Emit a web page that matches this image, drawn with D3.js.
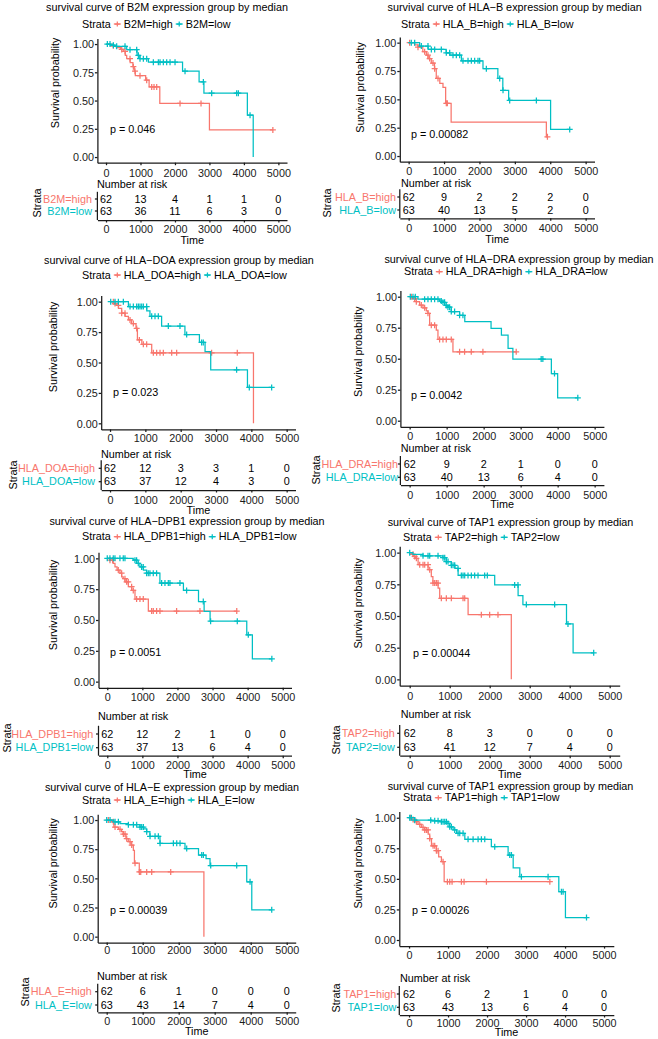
<!DOCTYPE html>
<html><head><meta charset="utf-8">
<script src="https://cdn.jsdelivr.net/npm/d3@7"></script>
<style>body{margin:0;background:#fff}</style>
</head><body>
<script>
// ---------- DATA ----------
const genes = ["B2M","HLA_B","HLA_DOA","HLA_DRA","HLA_DPB1","TAP2","HLA_E","TAP1"];
const titles = [
 "survival curve of B2M expression group by median",
 "survival curve of HLA\u2212B expression group by median",
 "survival curve of HLA\u2212DOA expression group by median",
 "survival curve of HLA\u2212DRA expression group by median",
 "survival curve of HLA\u2212DPB1 expression group by median",
 "survival curve of TAP1 expression group by median",
 "survival curve of HLA\u2212E expression group by median",
 "survival curve of TAP1 expression group by median"];
const pValues = ["0.046","0.00082","0.023","0.0042","0.0051","0.00044","0.00039","0.00026"];
const timeTicks = [0,1000,2000,3000,4000,5000];
const survTicks = [0,0.25,0.5,0.75,1];
const survTickLabels = ["0.00","0.25","0.50","0.75","1.00"];
const riskHigh = [[62,13,4,1,1,0],[62,9,2,2,2,0],[62,12,3,3,1,0],[62,9,2,1,0,0],[62,12,2,1,0,0],[62,8,3,0,0,0],[62,6,1,0,0,0],[62,6,2,1,0,0]];
const riskLow  = [[63,36,11,6,3,0],[63,40,13,5,2,0],[63,37,12,4,3,0],[63,40,13,6,4,0],[63,37,13,6,4,0],[63,41,12,7,4,0],[63,43,14,7,4,0],[63,43,13,6,4,0]];
const highEnd = [4840,3920,4060,2880,3690,2540,2700,3610];
const lowEnd  = [4270,4550,4575,4545,4690,4600,4584,4550];

const b2mHighSteps = [[150,0.984],[300,0.968],[420,0.952],[500,0.935],[560,0.90],[600,0.87],[700,0.835],[780,0.80],[820,0.76],[850,0.72],[1150,0.68],[1250,0.62],[1560,0.475],[3000,0.24]];
const b2mHighCensor = [213,455,551,696,793,841,986,1180,1325,1392,1470,2147,2756,4840];
const b2mLowSteps = [[120,0.99],[250,0.98],[600,0.95],[900,0.90],[980,0.87],[1230,0.84],[2220,0.76],[2700,0.665],[2840,0.565],[4100,0.37],[4270,0.0]];
const b2mLowCensor = [39,116,213,309,551,696,890,938,986,1083,1180,1373,1518,1567,1663,1760,1857,2002,2292,2824,3065,3790,3839,4178];

const hlabHighSteps = [[170,0.98],[260,0.96],[400,0.92],[500,0.89],[550,0.86],[640,0.82],[730,0.77],[780,0.685],[880,0.64],[970,0.605],[1045,0.465],[1200,0.30],[3890,0.17]];
const hlabHighCensor = [28,264,452,546,593,688,735,829,1064,1093,3920];
const hlabLowSteps = [[310,0.97],[550,0.94],[1060,0.91],[1160,0.89],[1490,0.84],[2100,0.77],[2520,0.685],[2660,0.58],[2825,0.49],[4010,0.235]];
const hlabLowCensor = [75,170,358,546,641,735,923,1064,1159,1253,1347,1441,1535,1677,1771,1865,1959,2006,2195,2572,2666,2854,3608,4550];

const doaHighSteps = [[95,0.985],[190,0.97],[240,0.945],[330,0.905],[425,0.88],[520,0.85],[610,0.82],[735,0.78],[775,0.685],[900,0.65],[1180,0.58],[4060,0.0]];
const doaHighCensor = [94,141,236,330,424,566,660,754,830,943,1037,1226,1320,1415,1509,1745,1886,2876,3602];
const doaLowSteps = [[520,0.96],[1040,0.925],[1130,0.88],[1460,0.80],[2120,0.73],[2530,0.665],[2690,0.59],[2850,0.44],[3890,0.295]];
const doaLowCensor = [19,141,236,377,566,660,754,802,849,896,943,1037,1179,1273,1367,1650,1980,2169,2593,2640,3583,3942,4575];

const draHighSteps = [[90,0.985],[180,0.96],[270,0.933],[360,0.91],[450,0.885],[495,0.866],[540,0.77],[720,0.73],[765,0.655],[1170,0.556]];
const draHighCensor = [45,135,180,315,405,495,585,675,810,900,990,1125,1350,1485,1665,1980,2880];
const draLowSteps = [[225,0.98],[810,0.965],[900,0.955],[950,0.93],[1030,0.915],[1125,0.88],[1350,0.85],[1490,0.80],[2200,0.745],[2480,0.69],[2660,0.583],[2790,0.497],[3830,0.38],[4000,0.185]];
const draLowCensor = [18,90,153,405,495,585,675,765,855,900,945,990,1035,1080,1125,1215,1350,1440,3555,3600,3915,4545];

const dpbHighSteps = [[75,0.985],[170,0.96],[220,0.93],[280,0.905],[360,0.88],[410,0.85],[455,0.835],[505,0.81],[600,0.77],[695,0.74],[790,0.67],[1170,0.573]];
const dpbHighCensor = [76,152,314,409,504,551,599,694,741,836,931,1026,1264,1311,1406,1501,1976,2641,3690];
const dpbLowSteps = [[740,0.985],[840,0.96],[930,0.93],[1030,0.905],[1120,0.88],[1500,0.80],[2170,0.74],[2600,0.65],[2760,0.57],[2930,0.49],[3975,0.38],[4135,0.185]];
const dpbLowCensor = [0,76,171,219,361,456,504,789,836,884,979,1026,1121,1169,1216,1311,1406,1549,1644,1739,1786,2071,2261,2736,2945,3705,4019,4690];

const tap2HighSteps = [[40,0.987],[90,0.97],[140,0.955],[210,0.905],[460,0.865],[540,0.81],[580,0.76],[710,0.72],[750,0.64],[1460,0.51],[2540,0.0]];
const tap2HighCensor = [83,125,167,250,333,375,458,500,583,625,666,708,791,916,1041,1333,1375,1791,1999,2207];
const tap2LowSteps = [[80,0.987],[330,0.975],[830,0.96],[915,0.93],[1040,0.90],[1130,0.875],[1210,0.82],[2125,0.745],[2710,0.66],[2830,0.59],[3920,0.437],[4085,0.21]];
const tap2LowCensor = [0,333,458,500,708,833,875,916,958,1041,1083,1125,1208,1291,1333,1375,1458,1541,1624,1708,1874,1941,2624,2707,2916,3624,3957,4600];

const heHighSteps = [[140,0.985],[200,0.94],[325,0.92],[415,0.90],[460,0.88],[535,0.84],[600,0.815],[675,0.785],[740,0.74],[770,0.63],[905,0.555],[2700,0.0]];
const heHighCensor = [46,185,232,370,463,509,556,648,695,787,907,945,1111,1250,1778];
const heLowSteps = [[200,0.985],[370,0.97],[600,0.96],[925,0.94],[1020,0.925],[1110,0.90],[1200,0.86],[1480,0.80],[2175,0.755],[2550,0.70],[2760,0.67],[2870,0.61],[3890,0.47],[4030,0.23]];
const heLowCensor = [0,93,232,324,602,741,833,926,972,1019,1111,1204,1343,1435,1482,1852,1945,2037,2222,2639,2685,2889,3611,3982,4584];

const tap1HighSteps = [[60,0.986],[145,0.967],[230,0.945],[315,0.92],[400,0.90],[490,0.865],[530,0.83],[575,0.77],[700,0.73],[760,0.68],[830,0.64],[900,0.477]];
const tap1HighCensor = [34,103,188,274,359,402,445,487,530,616,658,701,744,872,983,1043,1103,1342,1411,1984,3610];
const tap1LowSteps = [[145,0.98],[575,0.975],[785,0.967],[960,0.953],[1040,0.926],[1130,0.90],[1220,0.872],[1430,0.823],[2110,0.763],[2540,0.695],[2670,0.59],[2840,0.518],[3840,0.395],[4010,0.183]];
const tap1LowCensor = [17,60,145,556,658,744,829,872,915,958,1000,1043,1086,1171,1257,1300,1385,1513,1642,1770,1855,1941,2197,2582,2625,2881,3565,3907,3950,4550];

const highSteps = [b2mHighSteps,hlabHighSteps,doaHighSteps,draHighSteps,dpbHighSteps,tap2HighSteps,heHighSteps,tap1HighSteps];
const highCensor = [b2mHighCensor,hlabHighCensor,doaHighCensor,draHighCensor,dpbHighCensor,tap2HighCensor,heHighCensor,tap1HighCensor];
const lowSteps = [b2mLowSteps,hlabLowSteps,doaLowSteps,draLowSteps,dpbLowSteps,tap2LowSteps,heLowSteps,tap1LowSteps];
const lowCensor = [b2mLowCensor,hlabLowCensor,doaLowCensor,draLowCensor,dpbLowCensor,tap2LowCensor,heLowCensor,tap1LowCensor];

// ---------- LAYOUT (pixels) ----------
const layouts = [
 {L:97.4,R:287,T:38.4,B:162.7,titleX:167,titleY:7,legX:82,legY:24,tickY:173,pX:110,pY:129,ytX:55,ytY:83,narX:97,narY:184,row1:199,row2:211,tAxisY:220,tTickY:229,timeY:240,strX:92,strataX:37,strataY:203},
 {L:399.8,R:594.5,T:37,B:161.7,titleX:514.7,titleY:7,legX:401,legY:24,tickY:171,pX:411,pY:134,ytX:360,ytY:87.5,narX:401,narY:183,row1:197,row2:210,tAxisY:218.3,tTickY:228,timeY:239,strX:396,strataX:327,strataY:203},
 {L:101.2,R:295.5,T:295.6,B:429.4,titleX:179,titleY:260,legX:82,legY:275,tickY:438,pX:113,pY:392.7,ytX:53,ytY:347,narX:101,narY:454,row1:468.3,row2:481.7,tAxisY:490,tTickY:500,timeY:510,strX:95,strataX:13,strataY:475},
 {L:400.4,R:603.9,T:290.5,B:426.9,titleX:519,titleY:259,legX:404,legY:271.7,tickY:436.7,pX:411,pY:395,ytX:358,ytY:351.7,narX:400.7,narY:448.3,row1:464,row2:477.3,tAxisY:485,tTickY:495.7,timeY:504.3,strX:398,strataX:316,strataY:470},
 {L:98.5,R:291.5,T:552.2,B:687.8,titleX:187,titleY:521.7,legX:82,legY:536.7,tickY:697.7,pX:110,pY:652.7,ytX:53,ytY:605,narX:98,narY:716,row1:734,row2:747.7,tAxisY:755.7,tTickY:765,timeY:774,strX:93.3,strataX:7,strataY:738},
 {L:399.7,R:619.7,T:546.3,B:685.7,titleX:510.5,titleY:522.3,legX:403,legY:537.3,tickY:696.7,pX:413,pY:653.3,ytX:358,ytY:603.3,narX:400.7,narY:714,row1:733.3,row2:747.3,tAxisY:755.7,tTickY:765,timeY:774,strX:394.7,strataX:336,strataY:740},
 {L:97.7,R:295.7,T:814.2,B:942.5,titleX:172,titleY:787.3,legX:82,legY:800,tickY:950,pX:110,pY:910,ytX:53,ytY:863.3,narX:97,narY:976.7,row1:991.7,row2:1005,tAxisY:1012.3,tTickY:1021.7,timeY:1031.7,strX:91.7,strataX:25,strataY:992},
 {L:399.3,R:613.8,T:811.6,B:946.1,titleX:510.5,titleY:786,legX:403,legY:797.7,tickY:955,pX:412,pY:910,ytX:358,ytY:863.3,narX:400,narY:978.3,row1:994,row2:1007.3,tAxisY:1015,tTickY:1023.3,timeY:1032.3,strX:396.3,strataX:336,strataY:998}
];

// ---------- DRAW ----------
const RED = "#F8766D", CYAN = "#00BFC4";
const FS = 10.8;
const SW = 1.25;
const FONT = "'Liberation Sans', Arial, Helvetica, sans-serif";
const svg = d3.select("body").append("svg").attr("width",658).attr("height",1039)
  .style("font-family",FONT).style("font-size",FS+"px");

function survAt(steps,t){ let s=1; for(const [tt,ss] of steps){ if(tt<=t) s=ss; } return s; }
const cross = "M-3,0H3M0,-3V3";
const crossSmall = "M-2.5,0H2.5M0,-2.5V2.5";

layouts.forEach((Lo,i)=>{
  const g = svg.append("g");
  const x = d3.scaleLinear().domain([-250,5250]).range([Lo.L,Lo.R]);
  const y = d3.scaleLinear().domain([-0.05,1.05]).range([Lo.B,Lo.T]);

  // title
  g.append("text").attr("x",Lo.titleX).attr("y",Lo.titleY).attr("dy","0.35em")
    .attr("text-anchor","middle").text(titles[i]);

  // legend
  let lx = Lo.legX;
  const leg = g.append("g");
  const t0 = leg.append("text").attr("x",lx).attr("y",Lo.legY).attr("dy","0.35em").text("Strata");
  lx += t0.node().getComputedTextLength() + 3;
  [[RED,genes[i]+"=high"],[CYAN,genes[i]+"=low"]].forEach(([c,lab],k)=>{
    leg.append("path").attr("d",`M${lx},${Lo.legY}h7`).attr("stroke",c).attr("stroke-width",SW);
    leg.append("path").attr("d",crossSmall).attr("transform",`translate(${lx+3.5},${Lo.legY})`).attr("stroke",c).attr("stroke-width",SW).attr("fill","none");
    lx += 10;
    const tt = leg.append("text").attr("x",lx).attr("y",Lo.legY).attr("dy","0.35em").text(lab);
    lx += tt.node().getComputedTextLength() + 3;
  });

  // y axis
  const ya = g.append("g").attr("transform",`translate(${Lo.L},0)`)
    .call(d3.axisLeft(y).tickValues(survTicks).tickFormat((d,j)=>survTickLabels[j]).tickSize(2.5).tickSizeOuter(0).tickPadding(1));
  // x axis
  const xa = g.append("g").attr("transform",`translate(0,${Lo.B})`)
    .call(d3.axisBottom(x).tickValues(timeTicks).tickFormat(d3.format("d")).tickSize(2.5).tickSizeOuter(0));
  xa.selectAll("text").attr("y",Lo.tickY-Lo.B).attr("dy","0.35em");
  [ya,xa].forEach(a=>{
    a.attr("font-family",FONT).attr("font-size",FS+"px");
    a.selectAll("text").attr("fill","#1a1a1a");
    a.selectAll("path,line").attr("stroke","#1a1a1a").attr("stroke-width",SW);
  });
  ya.selectAll("text").attr("dy","0.35em");

  // y title
  g.append("text").attr("transform",`translate(${Lo.ytX},${Lo.ytY}) rotate(-90)`)
    .attr("text-anchor","middle").attr("dy","0.35em").text("Survival probability");

  // curves
  const line = d3.line().x(d=>x(d[0])).y(d=>y(d[1])).curve(d3.curveStepAfter);
  [[highSteps[i],highCensor[i],highEnd[i],RED],[lowSteps[i],lowCensor[i],lowEnd[i],CYAN]].forEach(([st,ce,en,c])=>{
    const pts = [[0,1]].concat(st);
    pts.push([en, st[st.length-1][1]]);
    g.append("path").attr("d",line(pts)).attr("fill","none").attr("stroke",c).attr("stroke-width",SW);
    g.selectAll(null).data(ce).enter().append("path").attr("d",cross)
      .attr("transform",t=>`translate(${x(t)},${y(survAt(st,t))})`)
      .attr("stroke",c).attr("stroke-width",SW).attr("fill","none");
  });

  // p value
  g.append("text").attr("x",Lo.pX).attr("y",Lo.pY).attr("dy","0.35em").text("p = "+pValues[i]);

  // risk table
  g.append("text").attr("x",Lo.narX).attr("y",Lo.narY).attr("dy","0.35em").text("Number at risk");
  const top = Lo.row1 - 0.6*(Lo.row2-Lo.row1);
  g.append("line").attr("x1",Lo.L).attr("x2",Lo.L).attr("y1",top).attr("y2",Lo.tAxisY).attr("stroke","#1a1a1a").attr("stroke-width",SW);
  const ta = g.append("g").attr("transform",`translate(0,${Lo.tAxisY})`)
    .call(d3.axisBottom(x).tickValues(timeTicks).tickFormat(d3.format("d")).tickSize(2.5).tickSizeOuter(0));
  ta.attr("font-family",FONT).attr("font-size",FS+"px");
  ta.selectAll("text").attr("y",Lo.tTickY-Lo.tAxisY).attr("dy","0.35em").attr("fill","#1a1a1a");
  ta.selectAll("path,line").attr("stroke","#1a1a1a").attr("stroke-width",SW);

  [[riskHigh[i],Lo.row1,RED,genes[i]+"=high"],[riskLow[i],Lo.row2,CYAN,genes[i]+"=low"]].forEach(([vals,ry,c,lab])=>{
    g.selectAll(null).data(vals).enter().append("text")
      .attr("x",(d,j)=>x(timeTicks[j])).attr("y",ry).attr("dy","0.35em").attr("text-anchor","middle").text(d=>d);
    g.append("line").attr("x1",Lo.L-2.5).attr("x2",Lo.L).attr("y1",ry).attr("y2",ry).attr("stroke","#1a1a1a").attr("stroke-width",SW);
    g.append("text").attr("x",Lo.strX).attr("y",ry).attr("dy","0.35em").attr("text-anchor","end").attr("fill",c).text(lab);
  });
  g.append("text").attr("transform",`translate(${Lo.strataX},${Lo.strataY}) rotate(-90)`)
    .attr("text-anchor","middle").attr("dy","0.35em").text("Strata");
  g.append("text").attr("x",(Lo.L+Lo.R)/2).attr("y",Lo.timeY).attr("dy","0.35em").attr("text-anchor","middle").text("Time");
});
</script>
</body></html>
